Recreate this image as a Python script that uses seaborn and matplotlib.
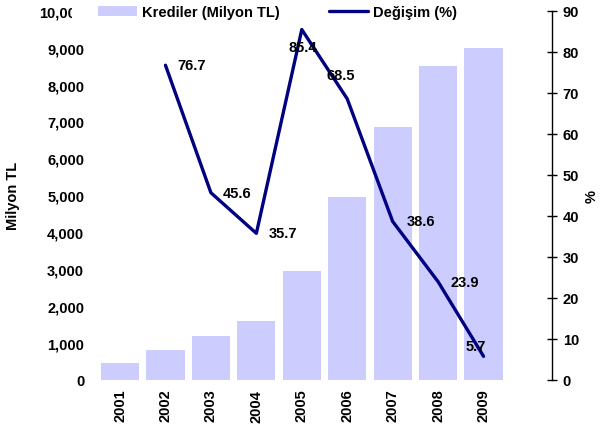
import matplotlib
matplotlib.use("Agg")
import matplotlib.pyplot as plt
import seaborn as sns
from matplotlib.patches import Patch, Rectangle
from matplotlib.lines import Line2D
from matplotlib.ticker import FuncFormatter, MultipleLocator

# data
years = ["2001", "2002", "2003", "2004", "2005", "2006", "2007", "2008", "2009"]
credits = [450, 800, 1180, 1590, 2950, 4950, 6850, 8500, 8990]
change_years = ["2002", "2003", "2004", "2005", "2006", "2007", "2008", "2009"]
change_pct = [76.7, 45.6, 35.7, 85.4, 68.5, 38.6, 23.9, 5.7]

# label placement (pixels from the point), as in the original
label_offsets = [(26, 0), (26, 0), (27, 0), (1, -17), (-6, 24), (28, 0), (27, 0), (-8, 10)]

bar_color = "#CCCCFF"
line_color = "#000080"

sns.set_style("white")
plt.rcParams["font.family"] = ["Liberation Sans", "DejaVu Sans"]
plt.rcParams["font.weight"] = "bold"
plt.rcParams["axes.labelweight"] = "bold"
plt.rcParams["font.size"] = 10.5
for key in ["text.color", "axes.labelcolor", "xtick.color", "ytick.color"]:
    plt.rcParams[key] = "black"

fig = plt.figure(figsize=(6, 4.35), dpi=100)
ax1 = fig.add_axes([0.1622, 0.1248, 0.7573, 0.8483])

sns.barplot(x=years, y=credits, color=bar_color, saturation=1, width=0.84,
            linewidth=0, ax=ax1)

ax2 = ax1.twinx()
line_pos = [years.index(y) for y in change_years]
sns.lineplot(x=line_pos, y=change_pct, color=line_color, linewidth=2.4, ax=ax2)

for x, v, (dx, dy) in zip(line_pos, change_pct, label_offsets):
    ax2.annotate(f"{v:.1f}", (x, v), xytext=(dx, dy), textcoords="offset pixels",
                 ha="center", va="center", fontsize=10.5, fontweight="bold",
                 color="black")

ax1.set_xlim(-0.5, 9.5)
ax1.set_ylim(0, 10000)
ax2.set_ylim(0, 90)

ax1.yaxis.set_major_locator(MultipleLocator(1000))
ax1.yaxis.set_major_formatter(FuncFormatter(lambda v, p: f"{v:,.0f}"))
ax2.yaxis.set_major_locator(MultipleLocator(10))

ax1.tick_params(axis="y", length=0, pad=9.5, labelcolor="black")
ax1.tick_params(axis="x", length=0, pad=6.5, rotation=90, labelcolor="black")
ax2.tick_params(axis="y", direction="inout", length=7.2, width=1, pad=4.3,
                color="black", labelcolor="black")

for s in ax1.spines.values():
    s.set_visible(False)
for name, s in ax2.spines.items():
    s.set_visible(name == "right")
ax2.spines["right"].set_linewidth(1)
ax2.spines["right"].set_color("black")

ax1.set_ylabel("Milyon TL", color="black")
ax1.yaxis.set_label_coords(-0.170, 0.5)
ax2.set_ylabel("%", color="black")
ax2.yaxis.set_label_coords(1.072, 0.5)

# white legend box covering the top of the left axis, like the original
fig.patches.append(Rectangle((72 / 600, 1 - 27 / 435), (480 - 72) / 600, 27 / 435,
                             transform=fig.transFigure, facecolor="white",
                             edgecolor="none", zorder=1))

handles = [Patch(facecolor=bar_color, edgecolor="none"),
           Line2D([0], [0], color=line_color, linewidth=2.4)]
fig.legend(handles, ["Krediler (Milyon TL)", "Değişim (%)"], loc="center left",
           bbox_to_anchor=(98 / 600, 1 - 13 / 435), ncol=2, frameon=False,
           handlelength=2.7, handletextpad=0.3, columnspacing=3.4,
           borderpad=0, borderaxespad=0, fontsize=10.5, labelcolor="black")

fig.savefig("out.png", dpi=100)
